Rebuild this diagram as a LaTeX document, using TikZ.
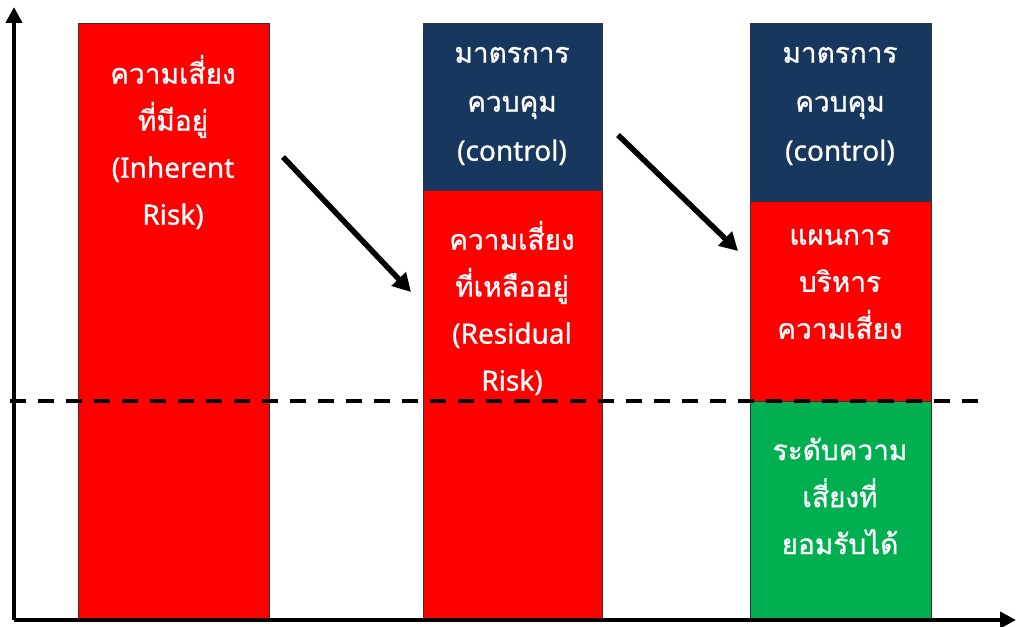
\documentclass[tikz,border=0pt]{standalone}
\usepackage{fontspec}
\setmainfont[FakeBold=0.8]{Noto Sans}
\newfontfamily\thai[Script=Thai,FakeBold=0.9]{Loma}
\usetikzlibrary{arrows.meta}
\definecolor{barred}{HTML}{FF0000}
\definecolor{barnavy}{HTML}{17375E}
\definecolor{bargreen}{HTML}{00B050}
\tikzset{
  seg/.style={draw=black!80, line width=0.8pt, anchor=north west, inner sep=0pt, outer sep=0pt},
  lbl/.style={text=white, align=center, font=\fontsize{28}{47}\selectfont},
  lbltop/.style={lbl, font=\fontsize{28}{49}\selectfont},
  axis/.style={line width=4pt, -{Triangle[length=16pt,width=16pt]}},
  flow/.style={line width=5.5pt, -{Triangle[length=18pt,width=19pt]}},
  level/.style={line width=4pt, dash pattern=on 16pt off 12pt}
}
\begin{document}
\begin{tikzpicture}[x=1pt,y=-1pt]
\useasboundingbox (0,0) rectangle (1016,626);
% bars
\node[seg, fill=barred, minimum width=191pt, minimum height=597pt] (b1) at (78,23) {};
\node[seg, fill=barnavy, minimum width=179pt, minimum height=167pt] (b2t) at (423,23) {};
\node[seg, fill=barred, minimum width=179pt, minimum height=430pt] (b2b) at (423,190) {};
\node[seg, fill=barnavy, minimum width=181pt, minimum height=178pt] (b3t) at (750,23) {};
\node[seg, fill=barred, minimum width=181pt, minimum height=200pt] (b3m) at (750,201) {};
\node[seg, fill=bargreen, minimum width=181pt, minimum height=219pt] (b3b) at (750,401) {};
% labels
\node[lbl] (t1) at (173,142) {{\thai ความเสี่ยง}\\{\thai ที่มีอยู่}\\(Inherent\\Risk)};
\node[lbltop] (t2t) at (512,106) {{\thai มาตรการ}\\{\thai ควบคุม}\\(control)};
\node[lbl] (t2b) at (512,308) {{\thai ความเสี่ยง}\\{\thai ที่เหลืออยู่}\\(Residual\\Risk)};
\node[lbltop] (t3t) at (840,106) {{\thai มาตรการ}\\{\thai ควบคุม}\\(control)};
\node[lbl] (t3m) at (840,284) {{\thai แผนการ}\\{\thai บริหาร}\\{\thai ความเสี่ยง}};
\node[lbl] (t3b) at (840,496) {{\thai ระดับความ}\\{\thai เสี่ยงที่}\\{\thai ยอมรับได้}};
% dashed level line
\coordinate (d0) at (10,401);
\coordinate (d1) at (980,401);
\draw[level] (d0) -- (d1);
% axes
\coordinate (o) at (14,620);
\coordinate (ytop) at (14,7);
\coordinate (xend) at (1016,620);
\draw[axis] (o) -- (ytop);
\draw[axis] (o) -- (xend);
% flow arrows
\coordinate (a1s) at (283,157);
\coordinate (a1e) at (411,292);
\coordinate (a2s) at (618,135);
\coordinate (a2e) at (738,251);
\draw[flow] (a1s) -- (a1e);
\draw[flow] (a2s) -- (a2e);
\end{tikzpicture}
\end{document}
